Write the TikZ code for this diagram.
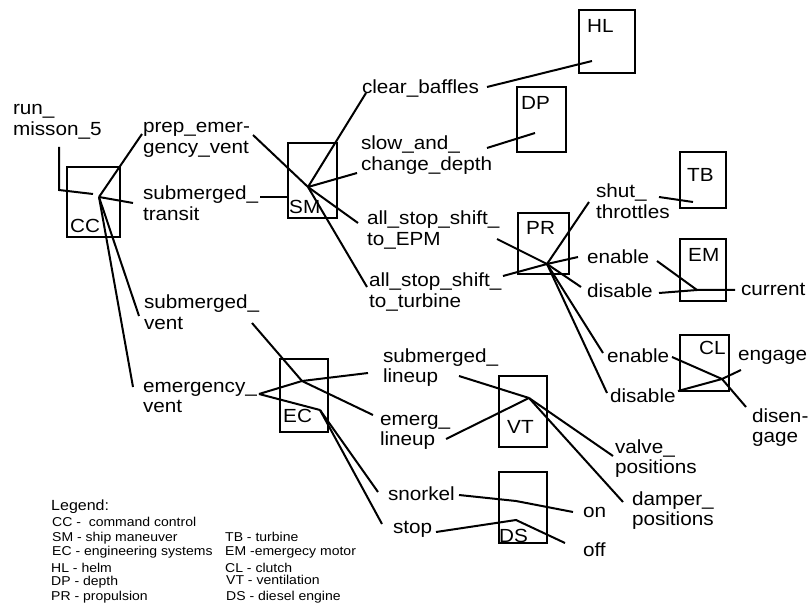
\documentclass[tikz,border=0pt]{standalone}
\usepackage{fontspec}
\setmainfont{Liberation Sans}[FakeStretch=1.09]
\newcommand\lblfont{\fontsize{19}{20.5}\selectfont}
\newcommand\legfont{\fontsize{12.85}{14}\selectfont}
\newcommand\legheadfont{\fontsize{14.7}{16}\selectfont}
\begin{document}
\begin{tikzpicture}[x=1pt,y=-1pt,
  lbl/.style={font=\lblfont, inner sep=0pt, outer sep=0pt, anchor=north west, align=left, yshift=14.35pt},
  boxst/.style={draw, line width=2.6pt, inner sep=0pt, outer sep=0pt, anchor=north west},
  boxlbl/.style={font=\lblfont, inner sep=0pt, anchor=base west},
  wire/.style={line width=2pt, line cap=butt, line join=miter},
  leg/.style={font=\legfont, inner sep=0pt, anchor=base west},
]
\useasboundingbox (0,0) rectangle (811,609);

% ---- subsystem boxes ----
\node[boxst, minimum width=53pt, minimum height=70pt] (CC) at (67,167) {};
\node[boxst, minimum width=49pt, minimum height=75pt] (SM) at (288,143) {};
\node[boxst, minimum width=56pt, minimum height=63pt] (HL) at (579,10) {};
\node[boxst, minimum width=49pt, minimum height=65pt] (DP) at (517,87) {};
\node[boxst, minimum width=46pt, minimum height=56pt] (TB) at (680,152) {};
\node[boxst, minimum width=51pt, minimum height=61pt] (PR) at (518,213) {};
\node[boxst, minimum width=46pt, minimum height=62pt] (EM) at (680,239) {};
\node[boxst, minimum width=49pt, minimum height=56pt] (CL) at (680,335) {};
\node[boxst, minimum width=48pt, minimum height=73pt] (EC) at (280,359) {};
\node[boxst, minimum width=48pt, minimum height=71pt] (VT) at (499,376) {};
\node[boxst, minimum width=48pt, minimum height=71pt] (DS) at (499,472) {};

% ---- box captions ----
\node[boxlbl] (CCt) at (70,233) {CC};
\node[boxlbl] (SMt) at (289,214) {SM};
\node[boxlbl] (HLt) at (587,33) {HL};
\node[boxlbl] (DPt) at (521,110) {DP};
\node[boxlbl] (TBt) at (687,182) {TB};
\node[boxlbl] (PRt) at (526,235) {PR};
\node[boxlbl] (EMt) at (688,262) {EM};
\node[boxlbl] (CLt) at (699,355) {CL};
\node[boxlbl] (ECt) at (283,422) {EC};
\node[boxlbl] (VTt) at (507,433) {VT};
\node[boxlbl] (DSt) at (499,542) {DS};

% ---- activity labels ----
\node[lbl] (run)    at (13,115)  {\strut run\_\\\strut misson\_5};
\node[lbl] (prep)   at (143,133) {\strut prep\_emer-\\\strut gency\_vent};
\node[lbl] (subtr)  at (143,200) {\strut submerged\_\\\strut transit};
\node[lbl] (clear)  at (362,94)  {\strut clear\_baffles};
\node[lbl] (slow)   at (361,150) {\strut slow\_and\_\\\strut change\_depth};
\node[lbl] (epm)    at (367,225) {\strut all\_stop\_shift\_\\\strut to\_EPM};
\node[lbl] (turb)   at (369,287) {\strut all\_stop\_shift\_\\\strut to\_turbine};
\node[lbl] (subv)   at (144,309) {\strut submerged\_\\\strut vent};
\node[lbl] (emv)    at (143,392) {\strut emergency\_\\\strut vent};
\node[lbl] (subl)   at (383,362) {\strut submerged\_\\\strut lineup};
\node[lbl] (emgl)   at (380,425) {\strut emerg\_\\\strut lineup};
\node[lbl] (snork)  at (388,500) {\strut snorkel};
\node[lbl] (stop)   at (393,533) {\strut stop};
\node[lbl] (on)     at (583,517) {\strut on};
\node[lbl] (off)    at (583,556) {\strut off};
\node[lbl] (valve)  at (615,453) {\strut valve\_\\\strut positions};
\node[lbl] (damper) at (632,505) {\strut damper\_\\\strut positions};
\node[lbl] (shut)   at (596,198) {\strut shut\_\\\strut throttles};
\node[lbl] (enPR)   at (587,264) {\strut enable};
\node[lbl] (diPR)   at (587,298) {\strut disable};
\node[lbl] (curr)   at (741,296) {\strut current};
\node[lbl] (enCL)   at (607,363) {\strut enable};
\node[lbl] (diCL)   at (610,403) {\strut disable};
\node[lbl] (engage) at (738,360) {\strut engage};
\node[lbl] (diseng) at (752,422) {\strut disen-\\\strut gage};

% ---- connector junctions and ends ----
\coordinate (hCC) at (99,197);
\coordinate (hSM) at (308,187);
\coordinate (hHL) at (592,61);
\coordinate (hDP) at (535,133);
\coordinate (hPR) at (547,264);
\coordinate (hTB) at (693,202);
\coordinate (hEM) at (697,290);
\coordinate (hCL) at (722,379);
\coordinate (hEC) at (302,381);
\coordinate (kEC) at (320,410);
\coordinate (hVT) at (529,398);
\coordinate (hDSa) at (516,501);
\coordinate (hDSb) at (516,520);

\coordinate (runA) at (59,147);
\coordinate (runB) at (59,190);
\coordinate (runC) at (93,194);
\coordinate (prepA) at (142,134);
\coordinate (prepB) at (253,135);
\coordinate (subtrA) at (133,203);
\coordinate (subtrB) at (260,197);
\coordinate (smW) at (288,197);
\coordinate (subvA) at (139,316);
\coordinate (subvB) at (252,323);
\coordinate (emvA) at (133,387);
\coordinate (emvB) at (259,394);
\coordinate (clearA) at (366,93);
\coordinate (clearB) at (487,87);
\coordinate (slowA) at (357,173);
\coordinate (slowB) at (487,148);
\coordinate (epmA) at (358,223);
\coordinate (epmB) at (497,239);
\coordinate (turbA) at (367,287);
\coordinate (turbB) at (503,276);
\coordinate (shutA) at (589,202);
\coordinate (shutB) at (659,197);
\coordinate (enPRA) at (578,257);
\coordinate (enPRB) at (657,261);
\coordinate (diPRA) at (581,287);
\coordinate (diPRB) at (659,293);
\coordinate (currA) at (735,290);
\coordinate (enCLA) at (603,353);
\coordinate (enCLB) at (672,357);
\coordinate (diCLA) at (607,393);
\coordinate (diCLB) at (678,391);
\coordinate (engageA) at (741,370);
\coordinate (disengA) at (746,407);
\coordinate (sublA) at (368,373);
\coordinate (sublB) at (459,376);
\coordinate (emglA) at (373,415);
\coordinate (emglB) at (446,439);
\coordinate (snorkA) at (378,492);
\coordinate (snorkB) at (459,495);
\coordinate (stopA) at (382,524);
\coordinate (stopB) at (436,532);
\coordinate (valveA) at (613,456);
\coordinate (damperA) at (623,502);
\coordinate (onA) at (573,512);
\coordinate (offA) at (565,543);

% ---- command control ----
\draw[wire] (runA) -- (runB) -- (runC);
\draw[wire] (hCC) -- (prepA);
\draw[wire] (hCC) -- (subtrA);
\draw[wire] (hCC) -- (subvA);
\draw[wire] (hCC) -- (emvA);

% ---- ship maneuver ----
\draw[wire] (prepB) -- (hSM);
\draw[wire] (subtrB) -- (smW);
\draw[wire] (hSM) -- (clearA);
\draw[wire] (hSM) -- (slowA);
\draw[wire] (hSM) -- (epmA);
\draw[wire] (hSM) -- (turbA);
\draw[wire] (clearB) -- (hHL);
\draw[wire] (slowB) -- (hDP);

% ---- propulsion ----
\draw[wire] (epmB) -- (hPR);
\draw[wire] (turbB) -- (hPR);
\draw[wire] (hPR) -- (shutA);
\draw[wire] (hPR) -- (enPRA);
\draw[wire] (hPR) -- (diPRA);
\draw[wire] (hPR) -- (enCLA);
\draw[wire] (hPR) -- (diCLA);
\draw[wire] (shutB) -- (hTB);
\draw[wire] (enPRB) -- (hEM);
\draw[wire] (diPRB) -- (hEM) -- (currA);
\draw[wire] (enCLB) -- (hCL);
\draw[wire] (diCLB) -- (hCL);
\draw[wire] (hCL) -- (engageA);
\draw[wire] (hCL) -- (disengA);

% ---- engineering systems ----
\draw[wire] (subvB) -- (hEC);
\draw[wire] (emvB) -- (hEC);
\draw[wire] (emvB) -- (kEC);
\draw[wire] (hEC) -- (sublA);
\draw[wire] (hEC) -- (emglA);
\draw[wire] (kEC) -- (snorkA);
\draw[wire] (kEC) -- (stopA);

% ---- ventilation and diesel ----
\draw[wire] (sublB) -- (hVT);
\draw[wire] (emglB) -- (hVT);
\draw[wire] (hVT) -- (valveA);
\draw[wire] (hVT) -- (damperA);
\draw[wire] (snorkB) -- (hDSa) -- (onA);
\draw[wire] (stopB) -- (hDSb) -- (offA);

% ---- legend ----
\node[leg, font=\legheadfont] (legHead) at (51,510) {Legend:};
\node[leg] (legCC) at (52,526) {CC -~~command control};
\node[leg] (legSM) at (52,541) {SM - ship maneuver};
\node[leg] (legEC) at (52,555) {EC - engineering systems};
\node[leg] (legHL) at (51,572) {HL - helm};
\node[leg] (legDP) at (51,585) {DP - depth};
\node[leg] (legPR) at (51,600) {PR - propulsion};
\node[leg] (legTB) at (225,541) {TB - turbine};
\node[leg] (legEM) at (225,555) {EM -emergecy motor};
\node[leg] (legCL) at (225,572) {CL - clutch};
\node[leg] (legVT) at (226,584) {VT - ventilation};
\node[leg] (legDS) at (226,600) {DS - diesel engine};
\end{tikzpicture}
\end{document}
